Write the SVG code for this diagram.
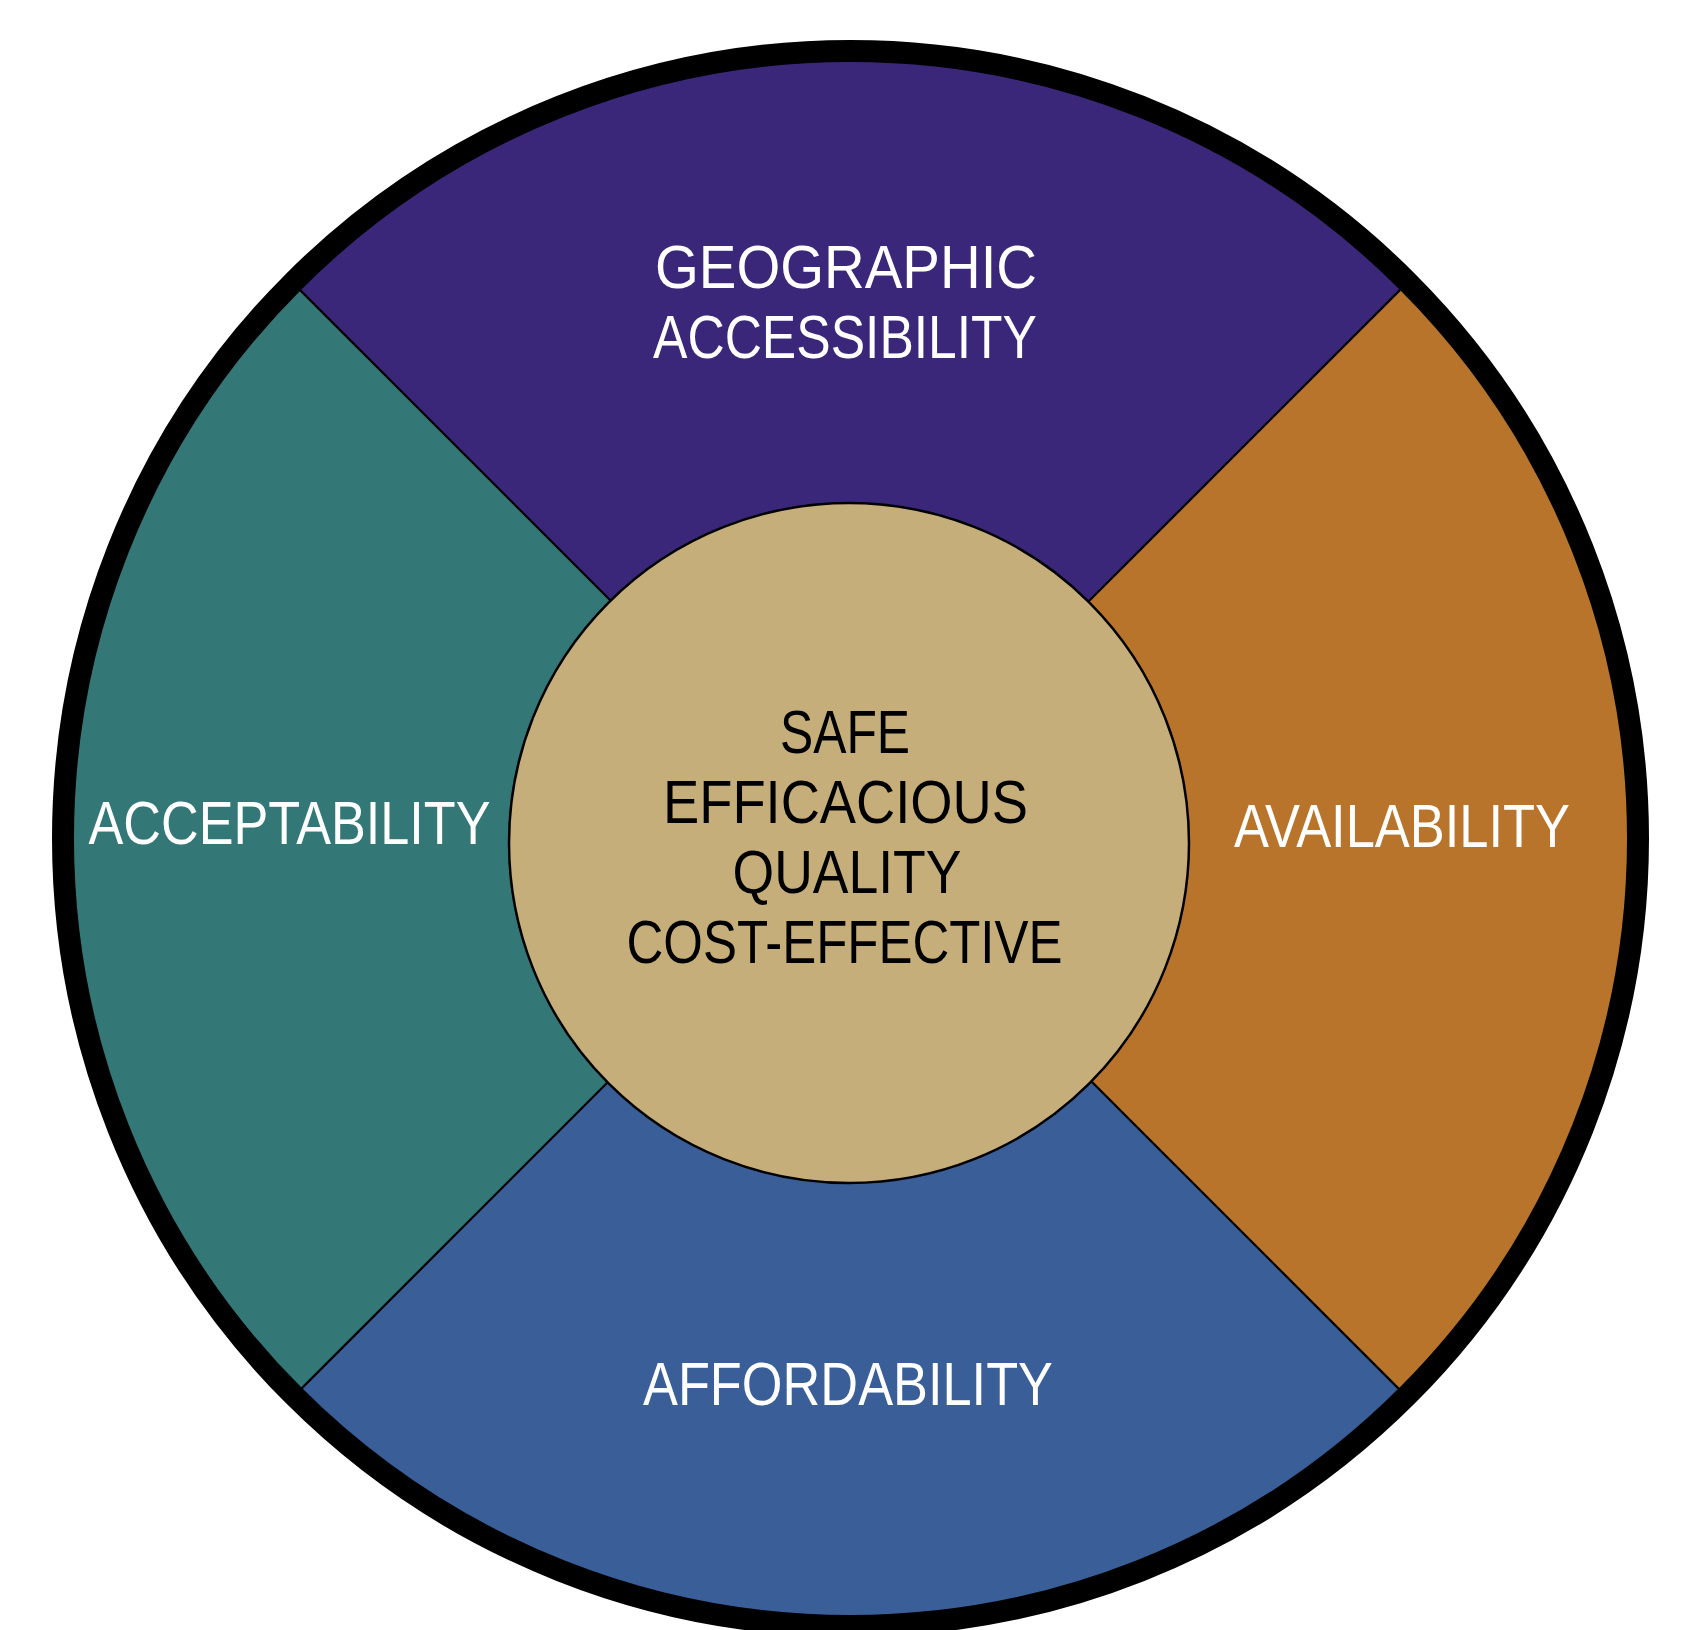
<svg xmlns="http://www.w3.org/2000/svg" width="1683" height="1630" viewBox="0 0 1683 1630">
<style>
.seg{stroke:none}
.div{stroke:#000;stroke-width:2.2;fill:none}
.lbl{font-family:"Liberation Sans",Arial,sans-serif;font-size:61px;fill:#fff;text-anchor:middle}
.ctr{font-family:"Liberation Sans",Arial,sans-serif;font-size:62px;fill:#000;text-anchor:middle}
</style>
<rect width="1683" height="1630" fill="#fff"/>
<g id="geographic-accessibility">
<path class="seg" fill="#3B2779" d="M850,840 L294.9,284.9 A785,785 0 0 1 1405.1,284.9 Z"/>
<text class="lbl" x="846" y="288" textLength="382" lengthAdjust="spacingAndGlyphs">GEOGRAPHIC</text>
<text class="lbl" x="845" y="358" textLength="384" lengthAdjust="spacingAndGlyphs">ACCESSIBILITY</text>
</g>
<g id="availability">
<path class="seg" fill="#B8742B" d="M850,840 L1405.1,284.9 A785,785 0 0 1 1405.1,1395.1 Z"/>
<text class="lbl" x="1402" y="847" textLength="336" lengthAdjust="spacingAndGlyphs">AVAILABILITY</text>
</g>
<g id="affordability">
<path class="seg" fill="#395E98" d="M850,840 L1405.1,1395.1 A785,785 0 0 1 294.9,1395.1 Z"/>
<text class="lbl" x="848" y="1405" textLength="410" lengthAdjust="spacingAndGlyphs">AFFORDABILITY</text>
</g>
<g id="acceptability">
<path class="seg" fill="#337877" d="M850,840 L294.9,1395.1 A785,785 0 0 1 294.9,284.9 Z"/>
<text class="lbl" x="289.5" y="844" textLength="402" lengthAdjust="spacingAndGlyphs">ACCEPTABILITY</text>
</g>
<g id="connectors">
<line class="div" x1="850" y1="840" x2="294.9" y2="284.9"/>
<line class="div" x1="850" y1="840" x2="1405.1" y2="284.9"/>
<line class="div" x1="850" y1="840" x2="1405.1" y2="1395.1"/>
<line class="div" x1="850" y1="840" x2="294.9" y2="1395.1"/>
</g>
<g id="ring">
<circle cx="850.5" cy="838.5" r="787.5" fill="none" stroke="#000" stroke-width="22"/>
</g>
<g id="center">
<circle cx="849" cy="843" r="340" fill="#C5AE7A" stroke="#000" stroke-width="2.5"/>
<text class="ctr" x="845" y="752.5" textLength="130" lengthAdjust="spacingAndGlyphs">SAFE</text>
<text class="ctr" x="845.5" y="822.5" textLength="365" lengthAdjust="spacingAndGlyphs">EFFICACIOUS</text>
<text class="ctr" x="847" y="892.5" textLength="229" lengthAdjust="spacingAndGlyphs">QUALITY</text>
<text class="ctr" x="844.5" y="962.5" textLength="436" lengthAdjust="spacingAndGlyphs">COST-EFFECTIVE</text>
</g>
</svg>
